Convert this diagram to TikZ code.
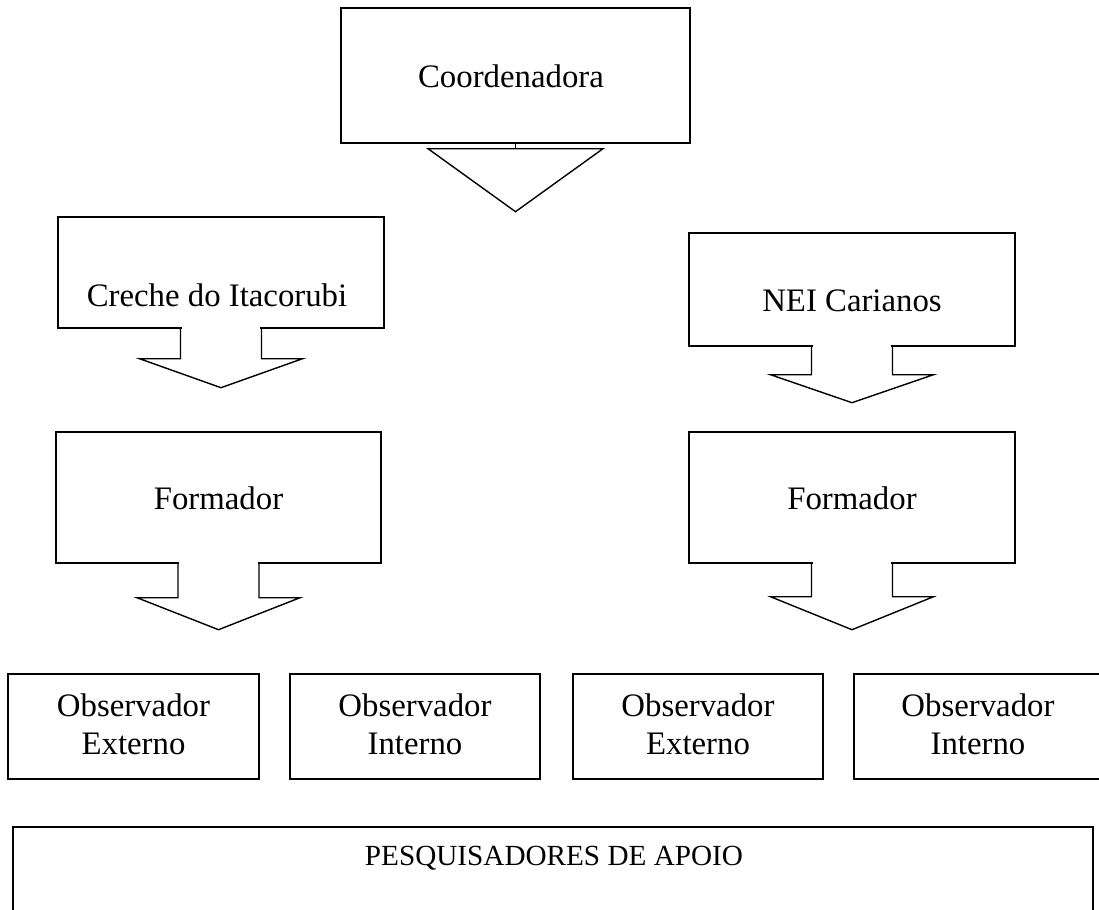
\documentclass[tikz,border=0pt]{standalone}
\usepackage{fontspec}
\setmainfont{Liberation Serif}
\usetikzlibrary{calc}

\tikzset{
  caixa/.style={rectangle, draw, line width=0.7pt, inner sep=0pt},
  texto/.style={anchor=base, inner sep=0pt},
}

% seta da caixa: no, haste, ponta
\newcommand{\seta}[3]{%
  \fill[white] ($(#1.south)+(-39.3,-1.5)$) rectangle ($(#1.south)+(39.3,2)$);
  \draw[line width=0.7pt] ($(#1.south)+(-40.5,0)$) -- ++(0,#2) -- ++(-41,0)
    -- ($(#1.south)+(0,#2+#3)$) -- ++(81.5,-#3) -- ++(-41,0) -- ++(0,-#2);
}

\begin{document}
\begin{tikzpicture}[x=0.5pt, y=-0.5pt, font=\fontsize{16.4}{19}\selectfont]
    \useasboundingbox (0,0) rectangle (1099,910);
    \clip (0,0) rectangle (1099,910);

    % caixas
    \node[caixa, minimum width=174.5pt, minimum height=67.5pt] (coord) at (515.5,75.5) {};
    \node[caixa, minimum width=163pt, minimum height=55.5pt] (creche) at (221,272.5) {};
    \node[caixa, minimum width=163pt, minimum height=56.5pt] (nei) at (852,289.5) {};
    \node[caixa, minimum width=162.5pt, minimum height=65.5pt] (formA) at (218.5,497.5) {};
    \node[caixa, minimum width=163pt, minimum height=65.5pt] (formB) at (852,497.5) {};
    \node[caixa, minimum width=125.5pt, minimum height=52.5pt] (obsA) at (133.5,726.5) {};
    \node[caixa, minimum width=125pt, minimum height=52.5pt] (obsB) at (415,726.5) {};
    \node[caixa, minimum width=125pt, minimum height=52.5pt] (obsC) at (698,726.5) {};
    \node[caixa, minimum width=125.5pt, minimum height=52.5pt] (obsD) at (979.5,726.5) {};
    \node[caixa, minimum width=540pt, minimum height=53pt] (apoio) at (553,880) {};

    % setas
    \draw[line width=0.7pt] (coord.south) -- ++(0,5);
    \draw[line width=0.7pt] ($(coord.south)+(-87.5,5)$) -- ++(175,0) -- ($(coord.south)+(0,68)$) -- cycle;
    \seta{creche}{30}{29}
    \seta{nei}{28}{28}
    \seta{formA}{34}{32}
    \seta{formB}{33}{33}

    % textos
    \node[texto] (tcoord) at (511,87) {Coordenadora};
    \node[texto] (tcreche) at (217,306) {Creche do Itacorubi};
    \node[texto] (tnei) at (852,311) {NEI Carianos};
    \node[texto] (tformA) at (218.5,509) {Formador};
    \node[texto] (tformB) at (852,509) {Formador};
    \node[align=center, inner sep=0pt] (tobsA) at (133.5,724) {Observador\\Externo};
    \node[align=center, inner sep=0pt] (tobsB) at (415,724) {Observador\\Interno};
    \node[align=center, inner sep=0pt] (tobsC) at (698,724) {Observador\\Externo};
    \node[align=center, inner sep=0pt] (tobsD) at (978,724) {Observador\\Interno};
    \node[texto, font=\fontsize{14.6}{17}\selectfont] (tapoio) at (554,865) {PESQUISADORES DE APOIO};

\end{tikzpicture}
\end{document}
